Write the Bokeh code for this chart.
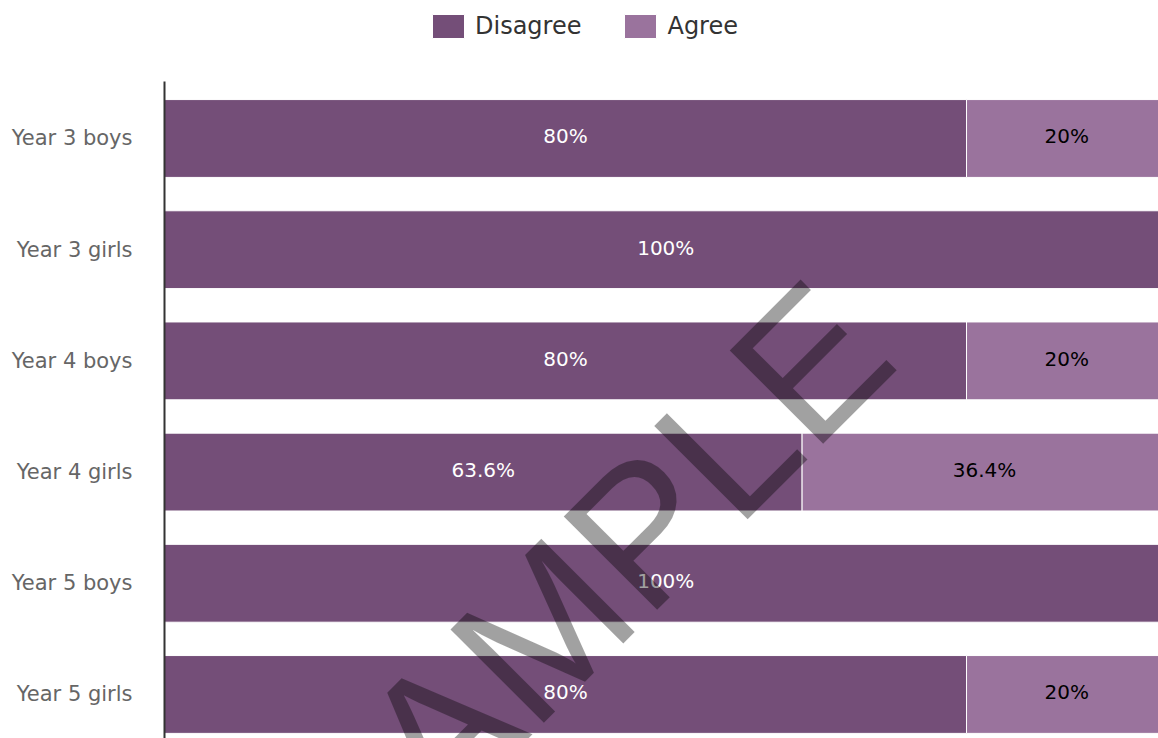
from bokeh.plotting import figure
from bokeh.models import ColumnDataSource, Range1d, FixedTicker, Legend, LegendItem, Label
from bokeh.core.properties import value
from bokeh.embed import file_html
from bokeh.resources import INLINE

categories = ["Year 3 boys", "Year 3 girls", "Year 4 boys", "Year 4 girls", "Year 5 boys", "Year 5 girls"]
disagree = [80, 100, 80, 63.6, 100, 80]
agree = [20, 0, 20, 36.4, 0, 20]
series_names = ["Disagree", "Agree"]
colors = ["#744e78", "#9a739d"]
label_colors = ["white", "black"]

ypos = list(range(len(categories)))
src = ColumnDataSource(dict(y=ypos, disagree=disagree, agree=agree))

p = figure(width=1158, height=738, output_backend="svg", toolbar_location=None,
           x_range=Range1d(0, 99.15), y_range=Range1d(5.396, -1.241),
           min_border_left=164, min_border_right=0, min_border_bottom=0, min_border_top=0)

rs = p.hbar_stack(["disagree", "agree"], y="y", height=0.7, color=colors,
                  line_color="white", line_width=1, source=src)

# value labels
lx, ly, lt, lc = [], [], [], []
for i in range(len(categories)):
    start = 0
    for vals, col in ((disagree, label_colors[0]), (agree, label_colors[1])):
        v = vals[i]
        if v > 0:
            lx.append(start + v / 2)
            ly.append(ypos[i])
            lt.append(f"{v:g}%")
            lc.append(col)
        start += v
lab_src = ColumnDataSource(dict(x=lx, y=ly, text=lt, color=lc))
p.text(x="x", y="y", text="text", text_color="color", source=lab_src,
       text_font=value("DejaVu Sans"), text_font_size="20px",
       text_align="center", text_baseline="middle", y_offset=-2)

legend = Legend(items=[LegendItem(label=n, renderers=[r]) for n, r in zip(series_names, rs)],
                orientation="horizontal", location=(264, 697),
                glyph_width=40, glyph_height=30, label_standoff=7, spacing=39,
                padding=5, margin=0, border_line_color=None, background_fill_alpha=0,
                label_text_font="DejaVu Sans", label_text_font_size="24px",
                label_text_color="#333333")
p.add_layout(legend)

p.xaxis.visible = False
p.xgrid.visible = False
p.ygrid.visible = False
p.outline_line_color = None

p.yaxis.bounds = (-0.513, 5.4)
p.yaxis.ticker = FixedTicker(ticks=ypos)
p.yaxis.major_label_overrides = {i: c for i, c in zip(ypos, categories)}
p.yaxis.major_tick_line_color = None
p.yaxis.minor_tick_line_color = None
p.yaxis.axis_line_color = "#333333"
p.yaxis.axis_line_width = 2
p.yaxis.major_label_text_font = "DejaVu Sans"
p.yaxis.major_label_text_font_size = "21px"
p.yaxis.major_label_text_color = "#666666"
p.yaxis.major_label_standoff = 26

wm = Label(x=41.46, y=4.085, text="SAMPLE", angle=45, angle_units="deg",
           text_font="Liberation Sans", text_font_size="192px",
           text_color="black", text_alpha=0.37,
           text_align="center", text_baseline="alphabetic")
p.add_layout(wm)

open("out.html", "w").write(file_html(p, INLINE))
